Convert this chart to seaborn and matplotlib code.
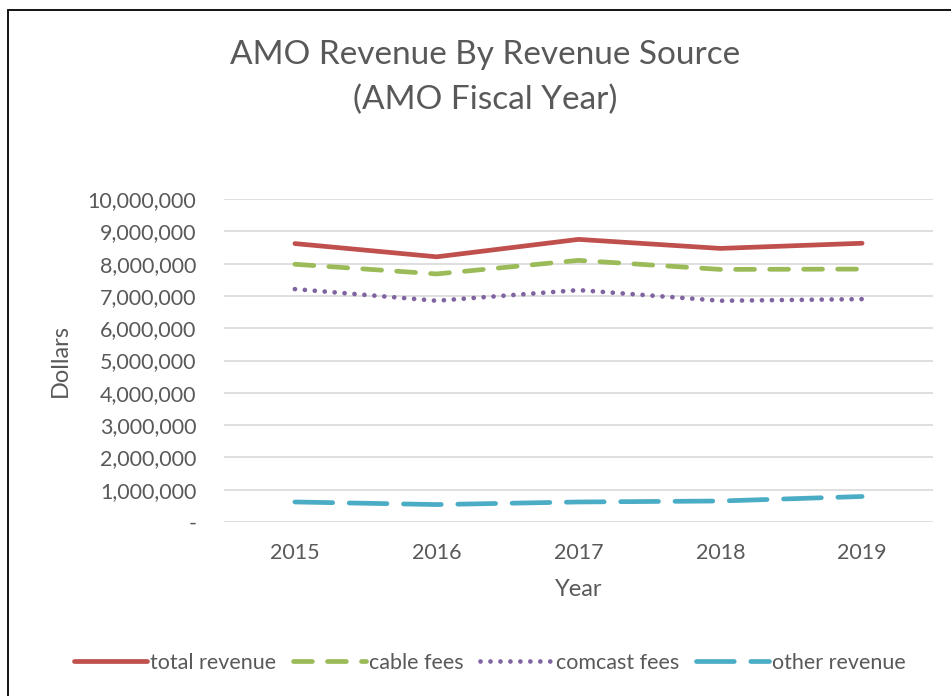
import matplotlib
matplotlib.use("Agg")
import matplotlib.pyplot as plt
from matplotlib.patches import Rectangle
from matplotlib.ticker import FuncFormatter
import seaborn as sns
import pandas as pd

years = [2015, 2016, 2017, 2018, 2019]
total_revenue = [8620000, 8210000, 8750000, 8470000, 8630000]
cable_fees = [7980000, 7680000, 8100000, 7820000, 7830000]
comcast_fees = [7210000, 6850000, 7180000, 6850000, 6900000]
other_revenue = [620000, 540000, 620000, 650000, 790000]

series = {
    "total revenue": total_revenue,
    "cable fees": cable_fees,
    "comcast fees": comcast_fees,
    "other revenue": other_revenue,
}
colors = {
    "total revenue": "#C0504D",
    "cable fees": "#9BBB59",
    "comcast fees": "#8064A2",
    "other revenue": "#4BACC6",
}
dashes = {
    "total revenue": "",
    "cable fees": (4, 3.2),
    "comcast fees": (0.01, 2.1),
    "other revenue": (8, 3.5),
}

df = pd.concat(
    [pd.DataFrame({"Year": years, "Dollars": v, "source": k}) for k, v in series.items()],
    ignore_index=True,
)

sns.set_style("white")
plt.rcParams["font.family"] = ["Lato", "DejaVu Sans"]
text_color = "#595959"

fig = plt.figure(figsize=(9.51, 6.96), dpi=100)
ax = fig.add_axes([224 / 951, 1 - 522 / 696, 709 / 951, 323 / 696])

sns.lineplot(
    data=df, x="Year", y="Dollars", hue="source", style="source",
    palette=colors, dashes=dashes, linewidth=3.4, ax=ax, legend=False,
    dash_capstyle="round", solid_capstyle="round",
)

ax.set_xlim(2014.5, 2019.5)
ax.set_ylim(0, 10_000_000)
ax.set_xticks(years)
ax.set_yticks(range(0, 10_000_001, 1_000_000))
ax.yaxis.set_major_formatter(FuncFormatter(lambda v, p: "-" if v == 0 else f"{v:,.0f}"))
ax.grid(axis="y", color="#D9D9D9", linewidth=1.2)
ax.set_axisbelow(True)
for s in ax.spines.values():
    s.set_visible(False)
ax.tick_params(axis="both", length=0, labelsize=15.5, colors=text_color)
ax.tick_params(axis="x", pad=15)
ax.tick_params(axis="y", pad=20)
ax.set_xlabel("Year", fontsize=17, color=text_color, labelpad=12)
ax.set_ylabel("Dollars", fontsize=17, color=text_color, labelpad=12)

fig.text(485 / 951, 1 - 55 / 696, "AMO Revenue By Revenue Source", ha="center", va="center",
         fontsize=24, color=text_color)
fig.text(485 / 951, 1 - 100 / 696, "(AMO Fiscal Year)", ha="center", va="center",
         fontsize=24, color=text_color)

handles = [ax.lines[i] for i in range(len(series))]
leg = fig.legend(
    handles, list(series.keys()), loc="center", bbox_to_anchor=(490 / 951, 1 - 663 / 696),
    ncol=4, frameon=False, fontsize=15.5, handlelength=3.4, handletextpad=0.15,
    columnspacing=0.75,
)
for t in leg.get_texts():
    t.set_color(text_color)

# outer frame: only the top and left edges fall inside the image
fig.patches.append(Rectangle((7.5 / 951, -10 / 696), 960 / 951, 696 / 696, transform=fig.transFigure,
                             fill=False, edgecolor="black", linewidth=1.3))

fig.savefig("out.png", dpi=100)
